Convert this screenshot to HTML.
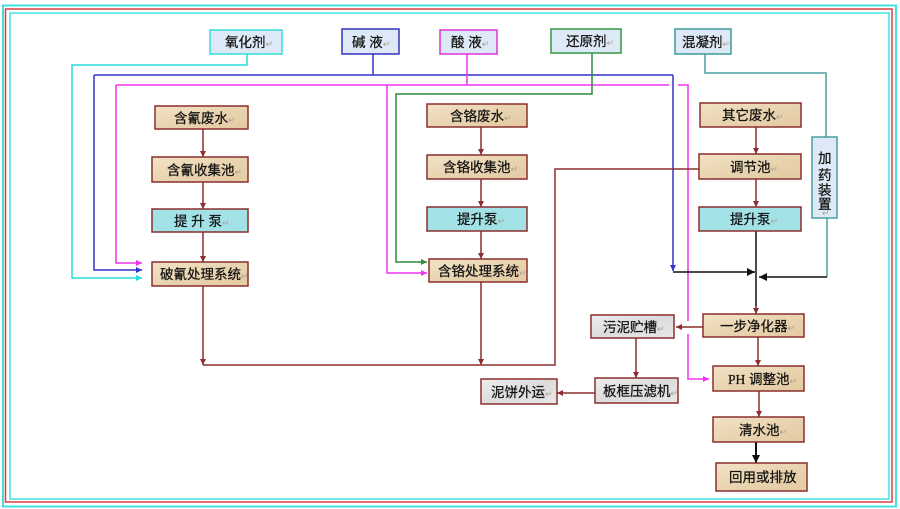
<!DOCTYPE html>
<html><head><meta charset="utf-8">
<style>
html,body{margin:0;padding:0;background:#fff;}
svg{display:block;}
text{font-family:"Liberation Sans","Noto Sans CJK SC","WenQuanYi Zen Hei",sans-serif;font-size:13.5px;fill:#111;stroke:#111;stroke-width:0.25px;}
.r{fill:#b0a090;stroke:none;font-size:9px;}
</style></head>
<body>
<svg width="900" height="509" viewBox="0 0 900 509" xmlns="http://www.w3.org/2000/svg">
<defs>
<linearGradient id="tan" x1="0" y1="0" x2="1" y2="1">
<stop offset="0" stop-color="#f2e2c6"/><stop offset="0.5" stop-color="#e9d4b0"/><stop offset="1" stop-color="#e3caa2"/>
</linearGradient>
<linearGradient id="gray" x1="0" y1="0" x2="1" y2="1">
<stop offset="0" stop-color="#eeeeee"/><stop offset="0.5" stop-color="#dcdcdc"/><stop offset="1" stop-color="#e8e8e8"/>
</linearGradient>
<marker id="aR" markerUnits="userSpaceOnUse" markerWidth="7" markerHeight="7" refX="6" refY="3.5" orient="auto"><path d="M0,0.5 L6,3.5 L0,6.5 z" fill="#8b2e2e"/></marker>
<marker id="aK" markerUnits="userSpaceOnUse" markerWidth="9" markerHeight="9" refX="8" refY="4.5" orient="auto"><path d="M0,0.5 L8,4.5 L0,8.5 z" fill="#111"/></marker>
<marker id="aC" markerUnits="userSpaceOnUse" markerWidth="7" markerHeight="7" refX="6" refY="3.5" orient="auto"><path d="M0,0.5 L6,3.5 L0,6.5 z" fill="#22dddd"/></marker>
<marker id="aB" markerUnits="userSpaceOnUse" markerWidth="7" markerHeight="7" refX="6" refY="3.5" orient="auto"><path d="M0,0.5 L6,3.5 L0,6.5 z" fill="#3333cc"/></marker>
<marker id="aM" markerUnits="userSpaceOnUse" markerWidth="7" markerHeight="7" refX="6" refY="3.5" orient="auto"><path d="M0,0.5 L6,3.5 L0,6.5 z" fill="#ee33ee"/></marker>
<marker id="aG" markerUnits="userSpaceOnUse" markerWidth="7" markerHeight="7" refX="6" refY="3.5" orient="auto"><path d="M0,0.5 L6,3.5 L0,6.5 z" fill="#2f8a3a"/></marker>
</defs>

<!-- outer frame -->
<rect x="3" y="5.5" width="893" height="501" fill="none" stroke="#44e0e0" stroke-width="2"/>
<rect x="5.5" y="9" width="886.5" height="493" fill="none" stroke="#d84040" stroke-width="1.5"/>
<rect x="10" y="13" width="879" height="486" fill="none" stroke="#44e0e0" stroke-width="1.5"/>

<!-- reagent lines -->
<g fill="none" stroke-width="1.5">
<path d="M247,54 V65 H72 V278 H142" stroke="#22dddd" marker-end="url(#aC)"/>
<path d="M373,54 V75" stroke="#3333cc"/>
<path d="M94,75 H673" stroke="#3333cc"/>
<path d="M94,75 V270 H142" stroke="#3333cc" marker-end="url(#aB)"/>
<path d="M673,75 V271" stroke="#3333cc" marker-end="url(#aB)"/>
<path d="M467,54 V85" stroke="#ee33ee"/>
<path d="M116,85 H669" stroke="#ee33ee"/>
<path d="M678,85 H688 V321" stroke="#ee33ee"/>
<path d="M688,334 V379 H709" stroke="#ee33ee" marker-end="url(#aM)"/>
<path d="M116,85 V263 H142" stroke="#ee33ee" marker-end="url(#aM)"/>
<path d="M387,85 V273 H427" stroke="#ee33ee" marker-end="url(#aM)"/>
<path d="M592,53 V94 H396 V262 H427" stroke="#2f8a3a" marker-end="url(#aG)"/>
<path d="M705,54 V73 H826 V137" stroke="#4a9f9f"/>
<path d="M827,218 V277" stroke="#4a9f9f"/>
<path d="M827,277 H759" stroke="#111" marker-end="url(#aK)"/>
<path d="M673,272 H755" stroke="#111" marker-end="url(#aK)"/>
</g>

<!-- process lines -->
<g fill="none" stroke="#8b2e2e" stroke-width="1.5">
<path d="M203,129 V157" marker-end="url(#aR)"/>
<path d="M203,182 V209" marker-end="url(#aR)"/>
<path d="M203,232 V262" marker-end="url(#aR)"/>
<path d="M203,286 V365" marker-end="url(#aR)"/>
<path d="M203,365 H555 V169 H699"/>
<path d="M481,127 V155" marker-end="url(#aR)"/>
<path d="M481,179 V207" marker-end="url(#aR)"/>
<path d="M481,231 V259" marker-end="url(#aR)"/>
<path d="M481,282 V365" marker-end="url(#aR)"/>
<path d="M756,127 V154" marker-end="url(#aR)"/>
<path d="M756,179 V207" marker-end="url(#aR)"/>
<path d="M756,305 V314" marker-end="url(#aR)"/>
<path d="M703,327 H676" marker-end="url(#aR)"/>
<path d="M758,337 V366" marker-end="url(#aR)"/>
<path d="M636,338 V378" marker-end="url(#aR)"/>
<path d="M595,393 H557" marker-end="url(#aR)"/>
<path d="M759,391 V417" marker-end="url(#aR)"/>
</g>
<path d="M756,231 V306" stroke="#111" stroke-width="1.5" fill="none"/>
<path d="M756,442 V463" stroke="#111" stroke-width="2" fill="none" marker-end="url(#aK)"/>

<!-- reagent boxes -->
<g fill="#dde9f6" stroke-width="1.5">
<rect x="210" y="30" width="72" height="24" stroke="#33dddd"/>
<rect x="342" y="29" width="57" height="25" stroke="#3333bb"/>
<rect x="440" y="30" width="57" height="24" stroke="#dd33dd"/>
<rect x="551" y="29" width="70" height="24" stroke="#339944"/>
<rect x="675" y="29" width="56" height="25" stroke="#3a9a9a"/>
<rect x="812" y="137" width="25" height="81" stroke="#4a9f9f"/>
</g>
<text x="225" y="47">氧化剂<tspan class="r">↵</tspan></text>
<text x="352" y="47">碱 液<tspan class="r">↵</tspan></text>
<text x="451" y="47">酸 液<tspan class="r">↵</tspan></text>
<text x="566" y="46">还原剂<tspan class="r">↵</tspan></text>
<text x="682" y="47">混凝剂<tspan class="r">↵</tspan></text>
<text x="818" y="163">加</text>
<text x="818" y="180">药</text>
<text x="818" y="195">装</text>
<text x="818" y="209">置</text>
<text x="822" y="216" class="r">↵</text>

<!-- tan boxes -->
<g fill="url(#tan)" stroke="#8b2e2e" stroke-width="1.5">
<rect x="155" y="106" width="93" height="23"/>
<rect x="152" y="157" width="96" height="25"/>
<rect x="152" y="262" width="96" height="24"/>
<rect x="427" y="104" width="100" height="23"/>
<rect x="427" y="155" width="100" height="24"/>
<rect x="429" y="259" width="98" height="23"/>
<rect x="700" y="103" width="101" height="24"/>
<rect x="699" y="154" width="102" height="25"/>
<rect x="703" y="314" width="101" height="23"/>
<rect x="713" y="366" width="91" height="25"/>
<rect x="713" y="417" width="91" height="25"/>
<rect x="716" y="463" width="91" height="28"/>
</g>
<!-- cyan boxes -->
<g fill="#a2e2e6" stroke="#8b2e2e" stroke-width="1.5">
<rect x="152" y="209" width="96" height="23"/>
<rect x="427" y="207" width="100" height="24"/>
<rect x="699" y="207" width="102" height="24"/>
</g>
<!-- gray boxes -->
<g fill="url(#gray)" stroke="#8b2e2e" stroke-width="1.5">
<rect x="591" y="315" width="83" height="23"/>
<rect x="595" y="378" width="83" height="25"/>
<rect x="481" y="379" width="76" height="25"/>
</g>

<text x="174" y="123">含氰废水<tspan class="r">↵</tspan></text>
<text x="167" y="175">含氰收集池<tspan class="r">↵</tspan></text>
<text x="174" y="226">提 升 泵<tspan class="r">↵</tspan></text>
<text x="160" y="279">破氰处理系统<tspan class="r">↵</tspan></text>
<text x="450" y="121">含铬废水<tspan class="r">↵</tspan></text>
<text x="443" y="172">含铬收集池<tspan class="r">↵</tspan></text>
<text x="457" y="224">提升泵<tspan class="r">↵</tspan></text>
<text x="438" y="276">含铬处理系统<tspan class="r">↵</tspan></text>
<text x="722" y="120">其它废水<tspan class="r">↵</tspan></text>
<text x="730" y="172">调节池<tspan class="r">↵</tspan></text>
<text x="730" y="224">提升泵<tspan class="r">↵</tspan></text>
<text x="720" y="331">一步净化器<tspan class="r">↵</tspan></text>
<text x="728" y="384"><tspan font-family="Liberation Serif">PH</tspan> 调整池<tspan class="r">↵</tspan></text>
<text x="739" y="435">清水池<tspan class="r">↵</tspan></text>
<text x="729" y="482">回用或排放</text>
<text x="603" y="332">污泥贮槽<tspan class="r">↵</tspan></text>
<text x="603" y="396">板框压滤机<tspan class="r">↵</tspan></text>
<text x="491" y="397">泥饼外运<tspan class="r">↵</tspan></text>
</svg>
</body></html>
